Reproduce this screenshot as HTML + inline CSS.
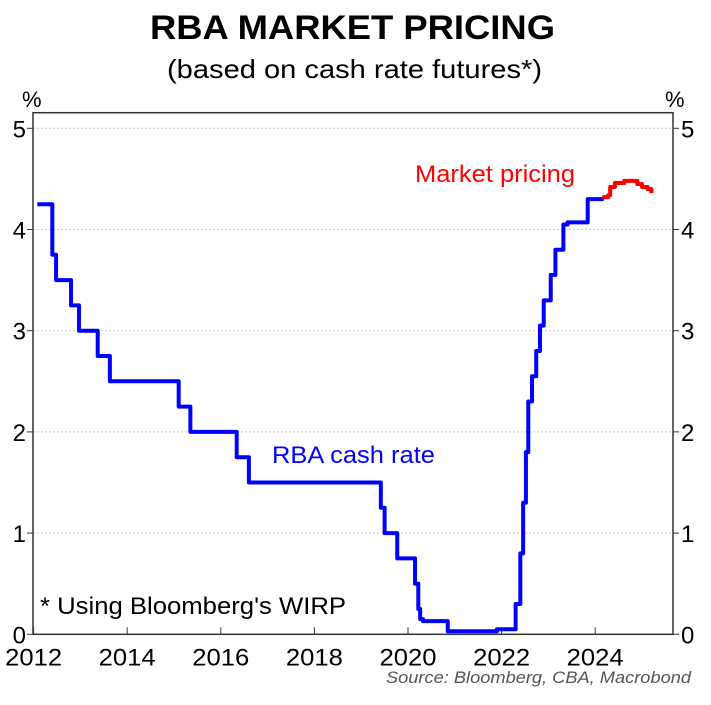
<!DOCTYPE html>
<html><head><meta charset="utf-8"><style>
html,body{margin:0;padding:0;background:#fff;}
svg{display:block;font-family:"Liberation Sans",Arial,sans-serif;}
</style></head><body>
<svg id="chart" width="711" height="705" viewBox="0 0 711 705">
<text x="150" y="39" font-size="34" font-weight="bold" textLength="405" lengthAdjust="spacingAndGlyphs">RBA MARKET PRICING</text>
<text x="167" y="78" font-size="26" textLength="375" lengthAdjust="spacingAndGlyphs">(based on cash rate futures*)</text>
<text x="22" y="107" font-size="22">%</text>
<text x="665" y="107" font-size="22">%</text>
<g id="grid"></g>
<g id="axes"></g>
<g id="series"></g>
<text x="272" y="463" font-size="24" fill="#0000ff" textLength="163" lengthAdjust="spacingAndGlyphs">RBA cash rate</text>
<text x="415" y="182" font-size="24" fill="#ff0000" textLength="160" lengthAdjust="spacingAndGlyphs">Market pricing</text>
<text x="40" y="614" font-size="24" textLength="306" lengthAdjust="spacingAndGlyphs">* Using Bloomberg's WIRP</text>
<text x="386" y="683" font-size="17" font-style="italic" fill="#555" textLength="305" lengthAdjust="spacingAndGlyphs">Source: Bloomberg, CBA, Macrobond</text>
</svg>
<script>
const yTicks=[0,1,2,3,4,5];
const xTicks=[2012,2014,2016,2018,2020,2022,2024];
const cashDates=[2012.08,2012.4,2012.48,2012.8,2012.97,2013.37,2013.63,2015.1,2015.35,2016.34,2016.6,2019.42,2019.5,2019.77,2020.15,2020.22,2020.26,2020.32,2020.85,2021.9,2022.3,2022.4,2022.46,2022.52,2022.57,2022.65,2022.74,2022.82,2022.9,2023.05,2023.15,2023.32,2023.41,2023.84,2024.15];
const cashRates=[4.25,3.75,3.5,3.25,3.0,2.75,2.5,2.25,2.0,1.75,1.5,1.25,1.0,0.75,0.5,0.25,0.15,0.13,0.03,0.05,0.3,0.8,1.3,1.8,2.3,2.55,2.8,3.05,3.3,3.55,3.8,4.05,4.07,4.3,4.32];
const mktDates=[2024.15,2024.28,2024.32,2024.42,2024.62,2024.9,2025.0,2025.12,2025.2];
const mktRates=[4.32,4.34,4.42,4.46,4.48,4.45,4.42,4.40,4.36];
const X0=33,X1=673,Y0=634.3,Y1=112.7;
const xs=v=>33.6+(v-2012)*46.8;
const ys=v=>634.3-v*101.2;
const NS="http://www.w3.org/2000/svg";
function mk(t,a,p){const e=document.createElementNS(NS,t);for(const k in a)e.setAttribute(k,a[k]);p.appendChild(e);return e;}
const grid=document.getElementById('grid'),axes=document.getElementById('axes'),ser=document.getElementById('series');
yTicks.forEach(v=>{
 if(v>0){const g=mk('line',{x1:X0,x2:X1,y1:ys(v),y2:ys(v),stroke:'#ccc','stroke-dasharray':'2,2'},grid);
 
 }
 const t1=mk('line',{x1:X0-6,x2:X0,y1:ys(v),y2:ys(v),stroke:'#333'},axes);
 
 
 const t2=mk('line',{x1:X1,x2:X1+6,y1:ys(v),y2:ys(v),stroke:'#333'},axes);
 
 
 const l=mk('text',{x:X0-7,y:ys(v)+9,'text-anchor':'end','font-size':24},axes);l.textContent=v;
 
 
 const r=mk('text',{x:X1+8,y:ys(v)+9,'font-size':24},axes);r.textContent=v;
 
 
});
xTicks.forEach(v=>{
 const t=mk('line',{x1:xs(v),x2:xs(v),y1:Y0-7,y2:Y0,stroke:'#333'},axes);
 
 
 const l=mk('text',{x:xs(v),y:Y0+31,'text-anchor':'middle','font-size':24,textLength:57,lengthAdjust:'spacingAndGlyphs'},axes);l.textContent=v;
 
 
});
const frame=mk('rect',{x:X0,y:Y1,width:X1-X0,height:Y0-Y1,fill:'none',stroke:'#333','stroke-width':1.5},axes);


function stepPath(d,r,end){let p='M'+xs(d[0])+','+ys(r[0]);for(let i=1;i<d.length;i++){p+=' H'+xs(d[i])+' V'+ys(r[i]);}if(end)p+=' H'+xs(end);return p;}
const cp=mk('path',{d:stepPath(cashDates,cashRates,2024.15),fill:'none',stroke:'#0000ff','stroke-width':4,'stroke-linejoin':'round'},ser);


let mp='M'+xs(mktDates[0])+','+ys(mktRates[0]);for(let i=1;i<mktDates.length;i++)mp+=' H'+xs(mktDates[i])+' V'+ys(mktRates[i]);
const m=mk('path',{d:mp,fill:'none',stroke:'#ff0000','stroke-width':4,'stroke-linejoin':'round'},ser);


</script>
</body></html>
